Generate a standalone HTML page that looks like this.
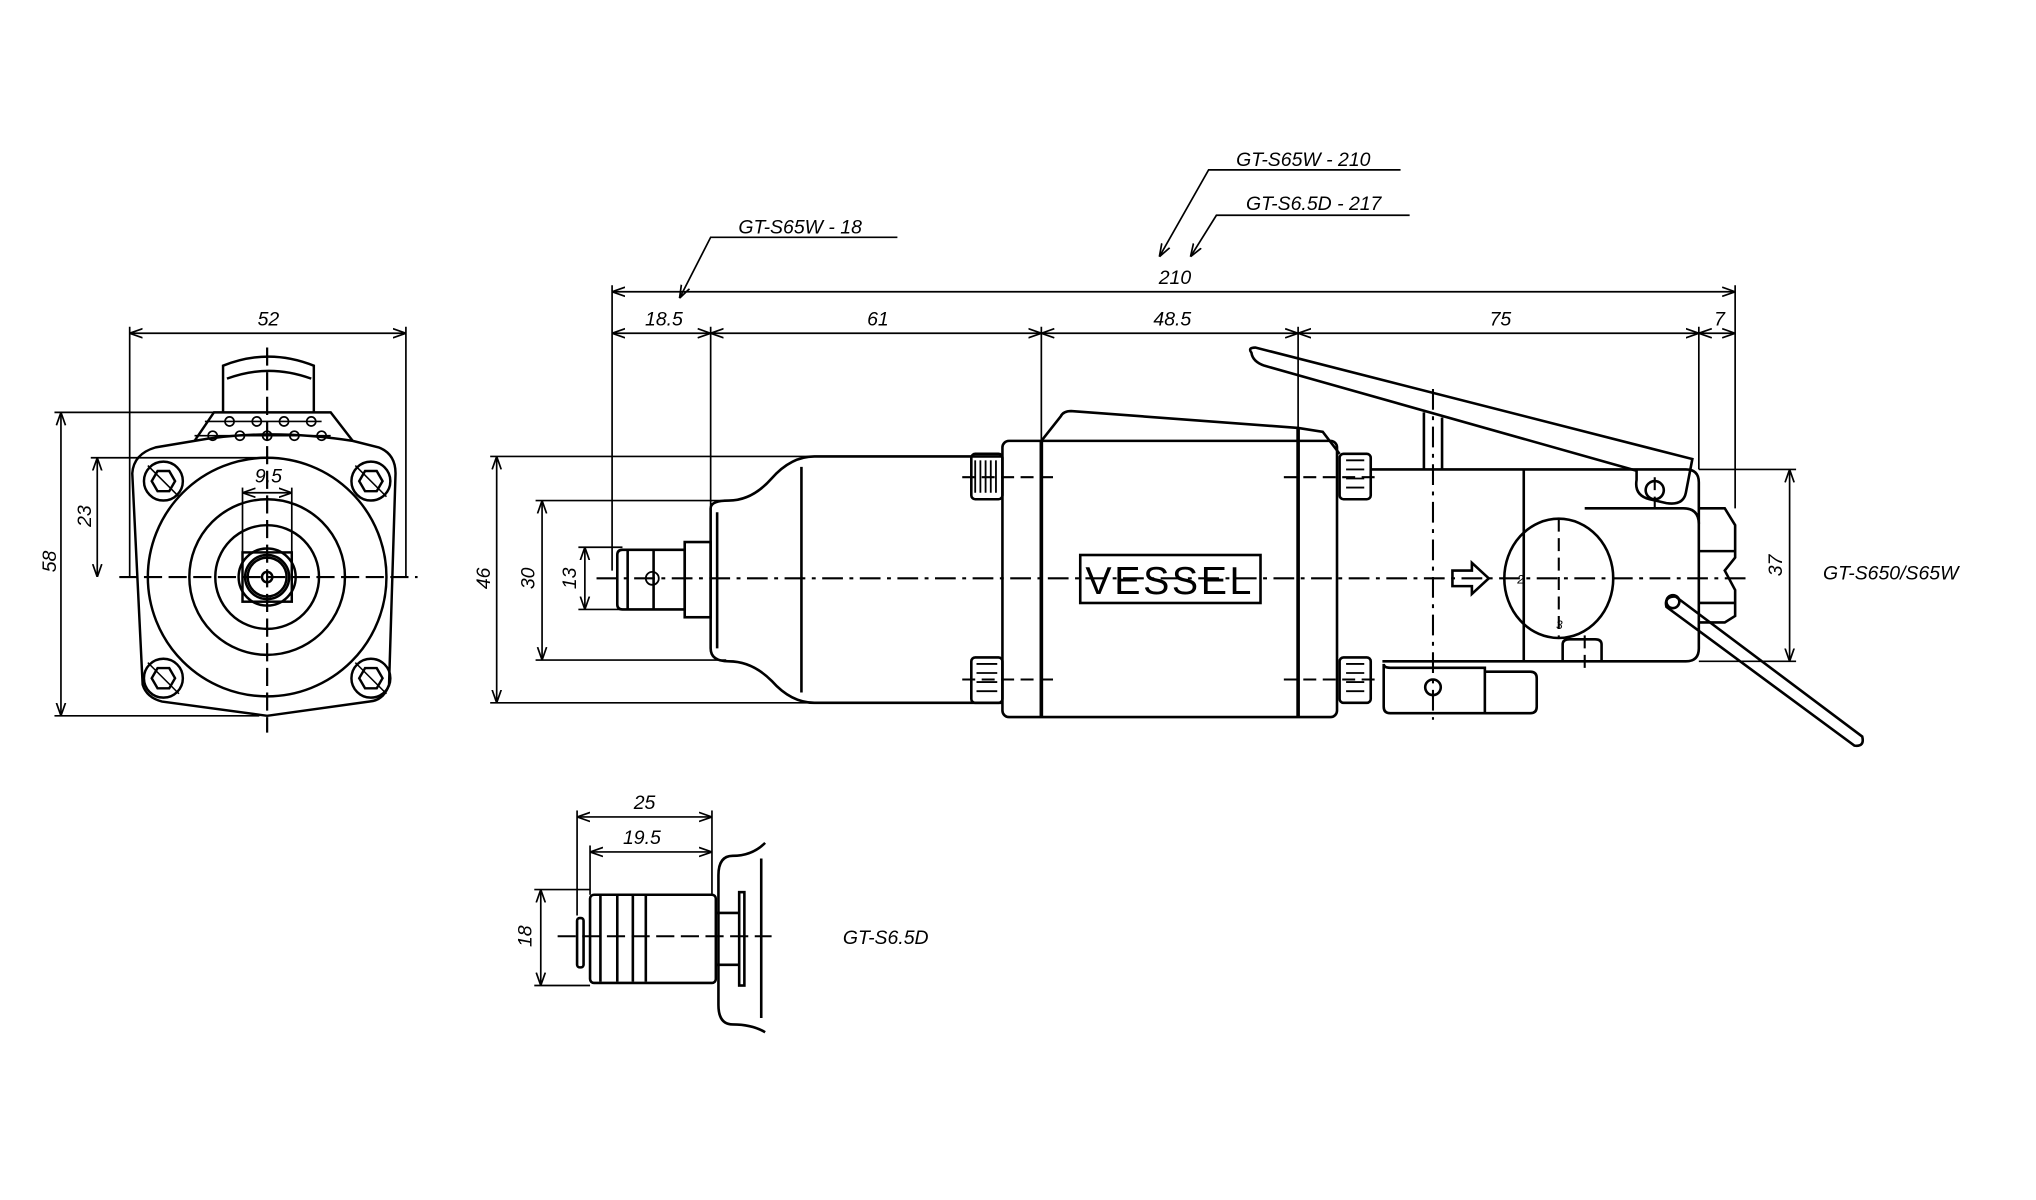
<!DOCTYPE html>
<html><head><meta charset="utf-8"><style>
html,body{margin:0;padding:0;background:#fff;}
svg{display:block}
text{font-family:"Liberation Sans",sans-serif;font-style:italic;font-size:15px;fill:#000}
</style></head><body>
<svg width="2036" height="1200" viewBox="0 0 1570 925.4" preserveAspectRatio="none" xmlns="http://www.w3.org/2000/svg">
<defs>
<marker id="a" viewBox="0 0 10 10" refX="10" refY="5" markerWidth="10" markerHeight="10" orient="auto-start-reverse" markerUnits="userSpaceOnUse"><path d="M0,1.5 L10,5 L0,8.5" fill="none" stroke="#000" stroke-width="1.3"/></marker>
<g id="bh" fill="none" stroke="#000" stroke-width="1.9"><circle cx="0" cy="0" r="15"/><polygon points="9,0 4.5,7.8 -4.5,7.8 -9,0 -4.5,-7.8 4.5,-7.8"/><line x1="-12" y1="-12" x2="12" y2="12" stroke-width="1.2"/></g>
</defs>
<g fill="none" stroke="#000" stroke-width="1.3">
<line x1="100" y1="257" x2="313" y2="257" marker-start="url(#a)" marker-end="url(#a)"/>
<line x1="100" y1="252" x2="100" y2="445"/><line x1="313" y1="252" x2="313" y2="445"/>
<line x1="47" y1="318" x2="47" y2="552" marker-start="url(#a)" marker-end="url(#a)"/>
<line x1="42" y1="318" x2="165" y2="318"/><line x1="42" y1="552" x2="200" y2="552"/>
<line x1="75" y1="353" x2="75" y2="445" marker-start="url(#a)" marker-end="url(#a)"/>
<line x1="70" y1="353" x2="206" y2="353"/>
<line x1="187" y1="380" x2="225" y2="380" marker-start="url(#a)" marker-end="url(#a)"/>
<line x1="187" y1="376" x2="187" y2="430"/><line x1="225" y1="376" x2="225" y2="430"/>
<g stroke-width="1.9">
<path d="M172,318 L172,282 Q207,268 242,282 L242,318"/>
<path d="M175,292 Q207,280 240,292"/>
<path d="M150,340 L165,318 L255,318 L272,340"/>
<path d="M120,345 L150,340 Q206,330 272,340 L292,345 Q305,350 305,365 L300,528 Q296,540 285,541 L206,552 L125,541 Q113,538 110,528 L102,365 Q103,350 120,345 Z"/>
<circle cx="206" cy="445" r="92"/><circle cx="206" cy="445" r="60"/><circle cx="206" cy="445" r="40"/>
<circle cx="206" cy="445" r="22"/><circle cx="206" cy="445" r="17"/><circle cx="206" cy="445" r="15"/><circle cx="206" cy="445" r="4"/>
<rect x="187" y="426" width="38" height="38"/>
</g>
<use href="#bh" x="126" y="371"/><use href="#bh" x="286" y="371"/><use href="#bh" x="126" y="523"/><use href="#bh" x="286" y="523"/>
<g stroke-width="1.3"><circle cx="177" cy="325" r="3.5"/><circle cx="198" cy="325" r="3.5"/><circle cx="219" cy="325" r="3.5"/><circle cx="240" cy="325" r="3.5"/>
<circle cx="164" cy="336" r="3.5"/><circle cx="185" cy="336" r="3.5"/><circle cx="206" cy="336" r="3.5"/><circle cx="227" cy="336" r="3.5"/><circle cx="248" cy="336" r="3.5"/>
<line x1="158" y1="325" x2="248" y2="325"/><line x1="150" y1="336" x2="255" y2="336"/></g>
<line x1="92" y1="445" x2="322" y2="445" stroke-width="1.7" stroke-dasharray="14,5"/>
<line x1="206" y1="268" x2="206" y2="565" stroke-width="1.7" stroke-dasharray="14,5"/>

<line x1="472" y1="225" x2="1338" y2="225" marker-start="url(#a)" marker-end="url(#a)"/>
<line x1="472" y1="257" x2="548" y2="257" marker-start="url(#a)" marker-end="url(#a)"/>
<line x1="548" y1="257" x2="803" y2="257" marker-start="url(#a)" marker-end="url(#a)"/>
<line x1="803" y1="257" x2="1001" y2="257" marker-start="url(#a)" marker-end="url(#a)"/>
<line x1="1001" y1="257" x2="1310" y2="257" marker-start="url(#a)" marker-end="url(#a)"/>
<line x1="1310" y1="257" x2="1338" y2="257" marker-start="url(#a)" marker-end="url(#a)"/>
<line x1="472" y1="220" x2="472" y2="440"/><line x1="548" y1="252" x2="548" y2="392"/>
<line x1="803" y1="252" x2="803" y2="340"/><line x1="1001" y1="252" x2="1001" y2="330"/>
<line x1="1310" y1="252" x2="1310" y2="362"/><line x1="1338" y1="220" x2="1338" y2="392"/>
<polyline points="692,183 548,183 524,230" marker-end="url(#a)"/>
<polyline points="1080,131 932,131 894,198" marker-end="url(#a)"/>
<polyline points="1087,166 938,166 918,198" marker-end="url(#a)"/>
<line x1="383" y1="352" x2="383" y2="542" marker-start="url(#a)" marker-end="url(#a)"/>
<line x1="378" y1="352" x2="625" y2="352"/><line x1="378" y1="542" x2="625" y2="542"/>
<line x1="418" y1="386" x2="418" y2="509" marker-start="url(#a)" marker-end="url(#a)"/>
<line x1="413" y1="386" x2="560" y2="386"/><line x1="413" y1="509" x2="560" y2="509"/>
<line x1="451" y1="422" x2="451" y2="470" marker-start="url(#a)" marker-end="url(#a)"/>
<line x1="446" y1="422" x2="480" y2="422"/><line x1="446" y1="470" x2="480" y2="470"/>
<line x1="1380" y1="362" x2="1380" y2="510" marker-start="url(#a)" marker-end="url(#a)"/>
<line x1="1310" y1="362" x2="1385" y2="362"/><line x1="1310" y1="510" x2="1385" y2="510"/>

<g stroke-width="2">
<path d="M476,428 L476,466 Q476,470 480,470 L528,470 L528,424 L480,424 Q476,424 476,428"/>
<line x1="484" y1="424" x2="484" y2="470"/><line x1="504" y1="424" x2="504" y2="470"/>
<rect x="528" y="418" width="20" height="58"/>
<path d="M548,392 L548,500 Q548,510 562,510 Q580,510 595,525 Q610,542 628,542 L773,542 M548,392 Q548,386 562,386 Q580,386 595,369 Q610,352 628,352 L773,352"/>
<line x1="618" y1="360" x2="618" y2="534"/>
<path d="M553,395 L553,500"/>
<rect x="749" y="350" width="24" height="35" rx="3"/><rect x="749" y="507" width="24" height="35" rx="3"/>
<rect x="1033" y="350" width="24" height="35" rx="3"/><rect x="1033" y="507" width="24" height="35" rx="3"/>
<rect x="773" y="340" width="258" height="213" rx="5"/>
<line x1="803" y1="340" x2="803" y2="553" stroke-width="2.8"/><line x1="1001" y1="330" x2="1001" y2="553" stroke-width="2.8"/>
<path d="M803,340 L818,321 Q820,317 826,317 L1001,330 L1020,333 L1033,350"/>
<rect x="833" y="428" width="139" height="37"/>
<path d="M1057,362 L1300,362 Q1310,362 1310,372 L1310,500 Q1310,510 1300,510 L1066,510"/>
<line x1="1175" y1="362" x2="1175" y2="510"/>
<path d="M1222,392 L1298,392 Q1310,392 1310,404"/>
<path d="M1205,510 L1205,497 Q1205,493 1210,493 L1230,493 Q1235,493 1235,497 L1235,510"/>
<path d="M1310,392 L1330,392 L1338,405 L1338,430 L1330,440 L1338,455 L1338,475 L1330,480 L1310,480"/>
<line x1="1310" y1="425" x2="1338" y2="425"/><line x1="1310" y1="465" x2="1338" y2="465"/>
<ellipse cx="1202" cy="446" rx="42" ry="46"/>
<path d="M1120,440 L1135,440 L1135,434 L1148,446 L1135,458 L1135,452 L1120,452 Z"/>
<path d="M965,272 Q962,268 968,268 L1305,354 L1300,380 Q1298,390 1285,388 L1272,385 Q1260,382 1262,370 L1262,363 L975,282 Q966,279 965,272 Z"/>
<circle cx="1276" cy="378" r="7"/>
<line x1="1098" y1="318" x2="1098" y2="362"/><line x1="1112" y1="322" x2="1112" y2="362"/>
<path d="M1067,512 L1067,545 Q1067,550 1072,550 L1145,550 L1145,515 L1072,515 Q1067,515 1067,512"/>
<path d="M1145,518 L1180,518 Q1185,518 1185,523 L1185,545 Q1185,550 1180,550 L1145,550"/>
<circle cx="1105" cy="530" r="6"/>
<path d="M1285,468 Q1283,460 1292,460 L1436,568 Q1438,576 1430,575 Z"/>
<circle cx="1290" cy="464" r="5"/>
</g>
<g stroke-width="1.4">
<line x1="752" y1="355" x2="752" y2="380"/><line x1="756" y1="355" x2="756" y2="380"/><line x1="760" y1="355" x2="760" y2="380"/><line x1="764" y1="355" x2="764" y2="380"/><line x1="768" y1="355" x2="768" y2="380"/>
<line x1="1038" y1="355" x2="1052" y2="355"/><line x1="1038" y1="362" x2="1052" y2="362"/><line x1="1038" y1="369" x2="1052" y2="369"/><line x1="1038" y1="376" x2="1052" y2="376"/>
<line x1="1038" y1="512" x2="1052" y2="512"/><line x1="1038" y1="519" x2="1052" y2="519"/><line x1="1038" y1="526" x2="1052" y2="526"/><line x1="1038" y1="533" x2="1052" y2="533"/>
<line x1="753" y1="512" x2="769" y2="512"/><line x1="753" y1="519" x2="769" y2="519"/><line x1="753" y1="526" x2="769" y2="526"/><line x1="753" y1="533" x2="769" y2="533"/>
<circle cx="503" cy="446" r="5"/>
</g>
<g stroke-width="1.6" stroke-dasharray="16,5,3,5">
<line x1="460" y1="446" x2="1350" y2="446"/>
<line x1="1105" y1="300" x2="1105" y2="555"/>
</g>
<g stroke-width="1.6" stroke-dasharray="10,5">
<line x1="1202" y1="400" x2="1202" y2="492"/><line x1="1222" y1="490" x2="1222" y2="520"/>
<line x1="742" y1="368" x2="815" y2="368"/><line x1="742" y1="524" x2="815" y2="524"/>
<line x1="990" y1="368" x2="1062" y2="368"/><line x1="990" y1="524" x2="1062" y2="524"/>
<line x1="1276" y1="368" x2="1276" y2="392"/>
</g>

<line x1="445" y1="630" x2="549" y2="630" marker-start="url(#a)" marker-end="url(#a)"/>
<line x1="455" y1="657" x2="549" y2="657" marker-start="url(#a)" marker-end="url(#a)"/>
<line x1="445" y1="625" x2="445" y2="706"/><line x1="455" y1="652" x2="455" y2="690"/><line x1="549" y1="625" x2="549" y2="690"/>
<line x1="417" y1="686" x2="417" y2="760" marker-start="url(#a)" marker-end="url(#a)"/>
<line x1="412" y1="686" x2="455" y2="686"/><line x1="412" y1="760" x2="455" y2="760"/>
<g stroke-width="2">
<rect x="445" y="708" width="5" height="38" rx="2"/>
<rect x="455" y="690" width="97" height="68" rx="3"/>
<line x1="463" y1="691" x2="463" y2="757"/><line x1="476" y1="691" x2="476" y2="757"/><line x1="488" y1="691" x2="488" y2="757"/><line x1="498" y1="691" x2="498" y2="757"/>
<line x1="552" y1="704" x2="570" y2="704"/><line x1="552" y1="744" x2="570" y2="744"/>
<rect x="570" y="688" width="4" height="72"/>
<path d="M590,650 Q580,660 565,660 Q554,660 554,675 L554,775 Q554,790 565,790 Q580,790 590,796"/>
<line x1="587" y1="662" x2="587" y2="785"/>
</g>
<line x1="430" y1="722" x2="595" y2="722" stroke-width="1.6" stroke-dasharray="14,5"/>
</g>

<g>
<text x="207" y="251" text-anchor="middle">52</text>
<text x="207" y="372" text-anchor="middle">9.5</text>
<text transform="translate(43,433) rotate(-90)" text-anchor="middle">58</text>
<text transform="translate(70,398) rotate(-90)" text-anchor="middle">23</text>
<text x="617" y="180" text-anchor="middle">GT-S65W - 18</text>
<text x="1005" y="128" text-anchor="middle">GT-S65W - 210</text>
<text x="1013" y="162" text-anchor="middle">GT-S6.5D - 217</text>
<text x="906" y="219" text-anchor="middle">210</text>
<text x="512" y="251" text-anchor="middle">18.5</text>
<text x="677" y="251" text-anchor="middle">61</text>
<text x="904" y="251" text-anchor="middle">48.5</text>
<text x="1157" y="251" text-anchor="middle">75</text>
<text x="1326" y="251" text-anchor="middle">7</text>
<text transform="translate(378,446) rotate(-90)" text-anchor="middle">46</text>
<text transform="translate(412,446) rotate(-90)" text-anchor="middle">30</text>
<text transform="translate(444,446) rotate(-90)" text-anchor="middle">13</text>
<text transform="translate(1374,436) rotate(-90)" text-anchor="middle">37</text>
<text x="1458" y="447" text-anchor="middle">GT-S650/S65W</text>
<text x="902" y="458" text-anchor="middle" style="font-style:normal;font-size:30px;font-weight:100;letter-spacing:2px" textLength="130" lengthAdjust="spacingAndGlyphs">VESSEL</text>
<text x="497" y="624" text-anchor="middle">25</text>
<text x="495" y="651" text-anchor="middle">19.5</text>
<text transform="translate(410,722) rotate(-90)" text-anchor="middle">18</text>
<text x="683" y="728" text-anchor="middle">GT-S6.5D</text>
<text x="1170" y="450" style="font-size:9px">2</text>
<text x="1200" y="485" style="font-size:9px">3</text>
</g>
</svg>
</body></html>
